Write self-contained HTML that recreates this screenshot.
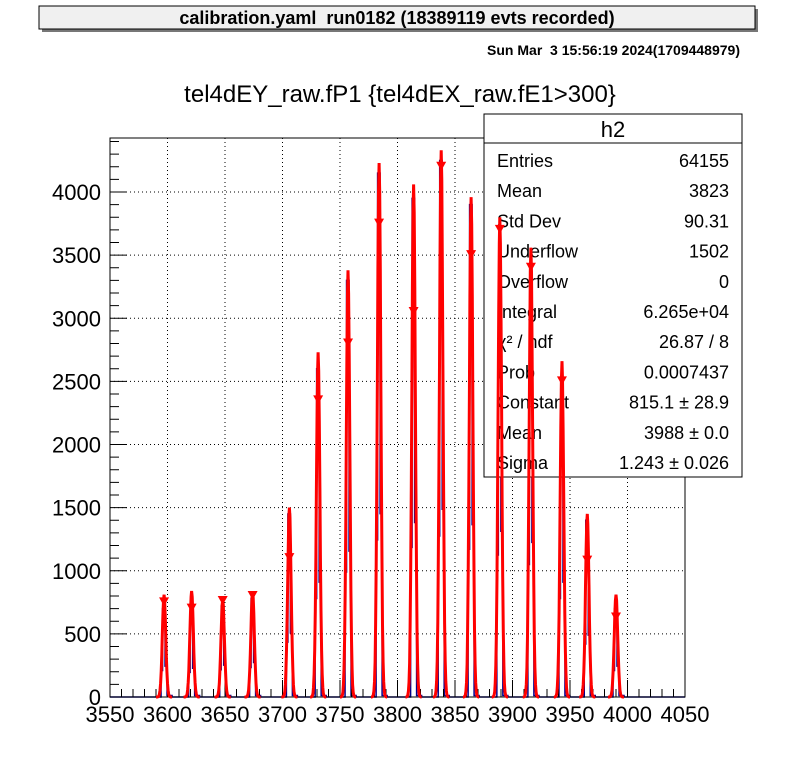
<!DOCTYPE html>
<html><head><meta charset="utf-8"><style>
body{margin:0;background:#fff;}
svg{display:block;font-family:"Liberation Sans",sans-serif;}
</style></head><body>
<svg id="c" width="798" height="776" xmlns="http://www.w3.org/2000/svg">
<rect x="0" y="0" width="798" height="776" fill="#fff"/>
<g>
<rect x="42" y="9" width="716" height="23" fill="#777"/>
<rect x="39" y="6" width="716" height="23" fill="#f0f0f0" stroke="#000" stroke-width="1"/>
<text x="397" y="24" font-size="18" font-weight="bold" text-anchor="middle" style="white-space:pre">calibration.yaml  run0182 (18389119 evts recorded)</text>
</g>
<text x="740" y="55" font-size="14" font-weight="bold" text-anchor="end" style="white-space:pre">Sun Mar  3 15:56:19 2024(1709448979)</text>
<text x="400" y="102" font-size="24" text-anchor="middle">tel4dEY_raw.fP1 {tel4dEX_raw.fE1&gt;300}</text>
<g id="grid"></g>
<g id="blue"></g>
<rect x="110" y="138" width="575" height="559" fill="none" stroke="#000" stroke-width="1"/>
<g id="axes"></g>
<g>
<rect x="484" y="114" width="258" height="363" fill="#fff" stroke="#000" stroke-width="1"/>
<line x1="484" y1="143" x2="742" y2="143" stroke="#000"/>
<text x="613" y="137" font-size="22" text-anchor="middle">h2</text>
<g font-size="18" id="stats"></g>
</g>
<g id="red"></g>
</svg>
<script>
const categories=[3597,3621,3648,3674,3706,3731,3757,3784,3814,3838,3864,3889,3916,3943,3965,3990];
const redPeaks=[810,840,770,830,1500,2730,3380,4230,4060,4330,3960,3800,3560,2660,1450,810];
const markerValues=[750,700,760,800,1100,2350,2800,3750,3050,4200,3500,3700,3400,2500,1080,630];
const bluePeaks=[700,650,720,780,1450,2600,3300,4150,3950,4250,3900,3750,3500,2600,1400,700];
const xTicks=[3550,3600,3650,3700,3750,3800,3850,3900,3950,4000,4050];
const yTicks=[0,500,1000,1500,2000,2500,3000,3500,4000];
const statLabels=["Entries","Mean","Std Dev","Underflow","Overflow","Integral","χ² / ndf","Prob","Constant","Mean","Sigma"];
const statValues=["64155","3823","90.31","1502","0","6.265e+04","26.87 / 8","0.0007437","815.1 ± 28.9","3988 ± 0.0","1.243 ± 0.026"];
const X=v=>110+(v-3550)*1.15, Y=v=>697-v*0.12625;
const NS="http://www.w3.org/2000/svg";
function mk(t,a,p){const e=document.createElementNS(NS,t);for(const k in a)e.setAttribute(k,a[k]);p.appendChild(e);return e;}
const grid=document.getElementById('grid'),axes=document.getElementById('axes');
xTicks.forEach((t,i)=>{
 if(i>0&&i<xTicks.length-1){const l=mk('line',{x1:X(t),x2:X(t),y1:138,y2:697,stroke:'#000','stroke-dasharray':'1,3'},grid);
 
 }
 mk('line',{x1:X(t),x2:X(t),y1:697,y2:680,stroke:'#000'},axes);
 if(i<xTicks.length-1)for(let k=1;k<5;k++)mk('line',{x1:X(t+k*10),x2:X(t+k*10),y1:697,y2:689,stroke:'#000'},axes);
 const tx=mk('text',{x:X(t),y:722,'font-size':22,'text-anchor':'middle'},axes);tx.textContent=t;
 
 
});
yTicks.forEach((t,i)=>{
 if(i>0){const l=mk('line',{x1:110,x2:685,y1:Y(t),y2:Y(t),stroke:'#000','stroke-dasharray':'1,3'},grid);
 
 }
 mk('line',{x1:110,x2:127,y1:Y(t),y2:Y(t),stroke:'#000'},axes);
 for(let k=1;k<5;k++){const v=t+k*100;if(Y(v)>138)mk('line',{x1:110,x2:119,y1:Y(v),y2:Y(v),stroke:'#000'},axes);}
 const tx=mk('text',{x:101,y:Y(t)+8,'font-size':22,'text-anchor':'end'},axes);tx.textContent=t;
 
 
});
const blue=document.getElementById('blue');
let d='M110,697';
categories.forEach((c,i)=>{
 const x=X(c);
 d+=` L${x-3},697 L${x-3},${Y(bluePeaks[i]*0.3)} L${x-1.5},${Y(bluePeaks[i]*0.3)} L${x-1.5},${Y(bluePeaks[i])} L${x+1},${Y(bluePeaks[i])} L${x+1},${Y(bluePeaks[i]*0.35)} L${x+3},${Y(bluePeaks[i]*0.35)} L${x+3},${Y(12)} L${x+8},${Y(12)} L${x+8},697`;
});
d+=' L685,697';
const bp=mk('path',{d:d,fill:'none',stroke:'#00008b','stroke-width':1.5},blue);


const red=document.getElementById('red');
categories.forEach((c,i)=>{
 let p='';const sig=1.5;
 for(let u=-7;u<=7;u+=0.5){const v=redPeaks[i]*Math.exp(-u*u/(2*sig*sig));p+=(p?' L':'M')+X(c+u).toFixed(1)+','+Y(v).toFixed(1);}
 const g=mk('path',{d:p,fill:'none',stroke:'#ff0000','stroke-width':3},red);
 
 
 const mx=X(c),my=Y(markerValues[i]);
 const m=mk('polygon',{points:`${mx-5},${my-5} ${mx+5},${my-5} ${mx},${my+4}`,fill:'#ff0000'},red);
 
 
});
const st=document.getElementById('stats');
statLabels.forEach((l,i)=>{
 const y=167+i*30.2;
 const a=mk('text',{x:497,y:y},st);a.textContent=l;
 
 
 const b=mk('text',{x:729,y:y,'text-anchor':'end'},st);b.textContent=statValues[i];
 
 
});
</script>
</body></html>
